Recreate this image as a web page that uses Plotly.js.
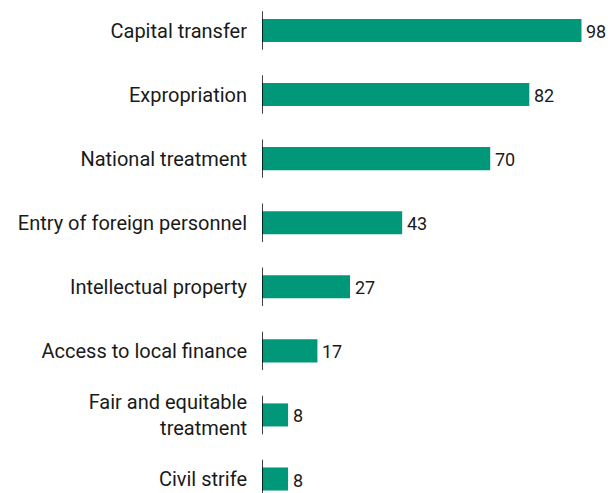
<!DOCTYPE html>
<html>
<head>
<meta charset="utf-8">
<script src="https://cdn.plot.ly/plotly-3.0.1.min.js"></script>
<style>html,body{margin:0;padding:0;background:#fff;}</style>
</head>
<body>
<div id="chart" style="width:608px;height:493px;"></div>
<script>
const categories = ["Capital transfer", "Expropriation", "National treatment", "Entry of foreign personnel", "Intellectual property", "Access to local finance", "Fair and equitable<br>treatment", "Civil strife"];
const values = [98, 82, 70, 43, 27, 17, 8, 8];

const FONT = "Roboto, 'Liberation Sans Narrow', sans-serif";

const shapes = categories.map((c, i) => ({
  type: 'line', xref: 'x', yref: 'y',
  x0: 0, x1: 0, y0: i - 0.3, y1: i + 0.3,
  line: {color: '#000', width: 1.5}
}));

const annotations = categories.map((c, i) => ({
  xref: 'x', yref: 'y', x: values[i], y: i,
  text: String(values[i]), showarrow: false,
  xanchor: 'left', yanchor: 'middle', xshift: 3, yshift: -1,
  font: {family: FONT, size: 18, color: '#1a1a1a'}
}));

const trace = {
  type: 'bar', orientation: 'h',
  y: categories, x: values,
  marker: {color: '#009878'},
  hoverinfo: 'none'
};

const layout = {
  width: 608, height: 493,
  margin: {l: 262, r: 20, t: 0, b: 0},
  paper_bgcolor: '#fff', plot_bgcolor: '#fff',
  bargap: 0.64,
  showlegend: false,
  xaxis: {range: [0, 100], visible: false, fixedrange: true},
  yaxis: {
    range: [7.2185, -0.476], type: 'category',
    showline: false, showgrid: false, zeroline: false,
    ticks: '', ticklabelstandoff: 14,
    tickfont: {family: FONT, size: 20, color: '#1a1a1a'},
    automargin: false
  },
  shapes: shapes,
  annotations: annotations,
  font: {family: FONT}
};

Plotly.newPlot('chart', [trace], layout, {displayModeBar: false, staticPlot: true});
</script>
</body>
</html>
